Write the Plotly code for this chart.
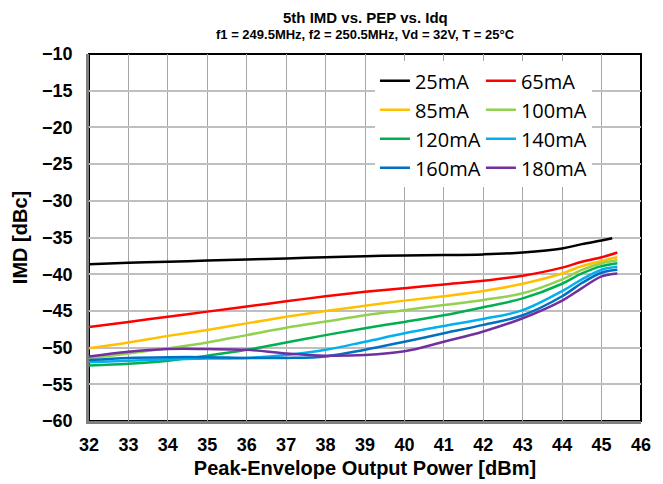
import plotly.graph_objects as go

# Peak-envelope output power [dBm]
pep = [32, 33, 34, 35, 36, 37, 38, 39, 40, 41, 42, 43, 44, 44.5, 45, 45.4]
pep_25 = [32, 33, 34, 35, 36, 37, 38, 39, 40, 41, 42, 43, 44, 44.5, 45, 45.27]

# 5th order IMD [dBc] per quiescent current
imd_25 = [-38.65, -38.45, -38.3, -38.15, -38.0, -37.85, -37.7, -37.55, -37.45, -37.4, -37.3, -37.05, -36.5, -35.9, -35.4, -35.1]
imd_65 = [-47.2, -46.5, -45.8, -45.1, -44.4, -43.7, -43.0, -42.4, -41.9, -41.4, -40.9, -40.2, -39.1, -38.3, -37.7, -37.05]
imd_85 = [-50.1, -49.3, -48.4, -47.6, -46.7, -45.8, -45.0, -44.3, -43.6, -43.0, -42.3, -41.3, -39.9, -38.9, -38.2, -37.7]
imd_100 = [-51.5, -50.8, -50.1, -49.3, -48.3, -47.3, -46.45, -45.6, -44.9, -44.2, -43.5, -42.6, -40.7, -39.4, -38.5, -38.1]
imd_120 = [-52.45, -52.2, -51.8, -51.1, -50.3, -49.3, -48.3, -47.35, -46.5, -45.6, -44.5, -43.3, -41.3, -39.9, -38.9, -38.5]
imd_140 = [-52.0, -51.8, -51.6, -51.5, -51.4, -51.0, -50.3, -49.2, -48.05, -47.05, -46.1, -44.9, -42.3, -40.7, -39.4, -39.0]
imd_160 = [-51.7, -51.4, -51.3, -51.3, -51.4, -51.4, -51.2, -50.3, -49.2, -48.05, -46.9, -45.6, -43.0, -41.2, -39.8, -39.4]
imd_180 = [-51.2, -50.55, -50.2, -50.2, -50.3, -50.8, -51.1, -51.0, -50.5, -49.2, -47.8, -46.0, -43.6, -41.9, -40.3, -39.9]

x_ticks = list(range(32, 47))
y_ticks = list(range(-60, -5, 5))

series = [
    ("25mA", pep_25, imd_25, "#000000", "legend"),
    ("65mA", pep, imd_65, "#FF0000", "legend2"),
    ("85mA", pep, imd_85, "#FFC000", "legend"),
    ("100mA", pep, imd_100, "#92D050", "legend2"),
    ("120mA", pep, imd_120, "#00B050", "legend"),
    ("140mA", pep, imd_140, "#00B0F0", "legend2"),
    ("160mA", pep, imd_160, "#0070C0", "legend"),
    ("180mA", pep, imd_180, "#7030A0", "legend2"),
]

fig = go.Figure()
for name, xs, ys, color, leg in series:
    fig.add_trace(go.Scatter(
        x=xs, y=ys, name=name, mode="lines", legend=leg,
        line=dict(color=color, width=2.5, shape="spline", smoothing=1.0)))

tick_font = dict(family="Liberation Sans", size=18, color="black", weight="bold")
title_font = dict(family="Liberation Sans", size=20, color="black", weight="bold")
leg_font = dict(family="Open Sans", size=20, color="black")

# the page body adds an 8px offset, so the figure is drawn 8px smaller
fig.update_layout(
    width=655, height=476,
    margin=dict(l=81, r=22, t=46, b=63, autoexpand=False),
    paper_bgcolor="white", plot_bgcolor="white",
    font=dict(family="Liberation Sans"),
    legend=dict(x=0.518, y=0.98, xanchor="left", yanchor="top",
                bgcolor="white", font=leg_font, tracegroupgap=0,
                itemwidth=30, traceorder="normal"),
    legend2=dict(x=0.71, y=0.98, xanchor="left", yanchor="top",
                 bgcolor="white", font=leg_font, tracegroupgap=0,
                 itemwidth=30, traceorder="normal"),
    shapes=[dict(type="rect", xref="paper", yref="paper", x0=0, y0=0, x1=1, y1=1,
                 line=dict(color="black", width=2), layer="below")],
    annotations=[
        dict(text="<b>5th IMD vs. PEP vs. Idq</b>", xref="paper", yref="paper",
             x=0.5, y=1, yshift=37, yanchor="middle", showarrow=False,
             font=dict(family="Liberation Sans", size=15, color="black")),
        dict(text="<b>f1 = 249.5MHz, f2 = 250.5MHz, Vd = 32V, T = 25°C</b>",
             xref="paper", yref="paper", x=0.5, y=1, yshift=20, yanchor="middle",
             showarrow=False,
             font=dict(family="Liberation Sans", size=13, color="black")),
    ],
)

fig.update_xaxes(
    range=[32, 46], tickvals=x_ticks, tickfont=tick_font, automargin=False,
    title=dict(text="Peak-Envelope Output Power [dBm]", font=title_font, standoff=7),
    showgrid=True, gridcolor="#A6A6A6", gridwidth=1.2,
    showline=True, linecolor="#7F7F7F", linewidth=2.5,
    ticks="outside", ticklen=6, tickcolor="rgba(0,0,0,0)", zeroline=False)

fig.update_yaxes(
    range=[-60, -10], tickvals=y_ticks, tickfont=tick_font, automargin=False,
    title=dict(text="IMD [dBc]", font=title_font, standoff=10),
    showgrid=True, gridcolor="#BFBFBF", gridwidth=2,
    showline=True, linecolor="#7F7F7F", linewidth=2.5,
    ticks="outside", ticklen=10, tickcolor="rgba(0,0,0,0)", zeroline=False)

fig.write_html("out.html")
